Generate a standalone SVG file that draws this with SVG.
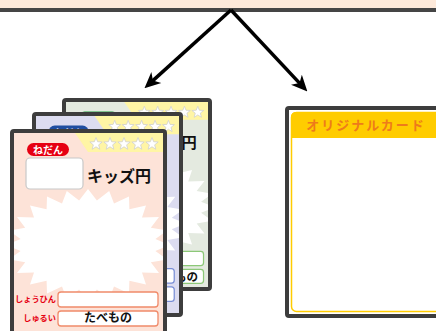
<svg xmlns="http://www.w3.org/2000/svg" xmlns:xlink="http://www.w3.org/1999/xlink" width="436" height="331" viewBox="0 0 436 331">
<style>
.frame{fill:none;stroke:#3d3d3d;stroke-width:4}
.jp{font-family:"Noto Sans CJK JP","Noto Sans",sans-serif;font-weight:bold}
.conn{stroke:#000;stroke-width:3.5;fill:none;marker-end:url(#arr)}
</style>
<defs>
<marker id="arr" markerUnits="userSpaceOnUse" markerWidth="16" markerHeight="16" viewBox="0 0 14 14" refX="7" refY="7" orient="auto">
<path d="M0,0.5 L14,7 L0,13.5 L4,7 Z" fill="#000"/>
</marker>
<path id="star" d="M0,-6.5 L1.65,-2.27 L6.18,-2.01 L2.66,0.87 L3.82,5.26 L0,2.8 L-3.82,5.26 L-2.66,0.87 L-6.18,-2.01 L-1.65,-2.27 Z" fill="#fff" stroke="#cfcfcf" stroke-width="0.8"/>
<g id="tpl">
<rect x="0" y="0" width="149" height="210" stroke="none"/>
<polygon points="61,0 149,0 149,19 74,19" fill="#fff5a5" stroke="none"/>
<use xlink:href="#star" x="82" y="11"/>
<use xlink:href="#star" x="96" y="11"/>
<use xlink:href="#star" x="110" y="11"/>
<use xlink:href="#star" x="124" y="11"/>
<use xlink:href="#star" x="138" y="11"/>
<rect x="13" y="10" width="42" height="13" rx="6.5" fill="currentColor" stroke="none"/>
<text x="34" y="20.5" class="jp" font-size="10" fill="#fff" stroke="none" text-anchor="middle">ねだん</text>
<rect x="12" y="25" width="57" height="31" rx="4" fill="#fff" stroke="#c8c8c8" stroke-width="1.2"/>
<text x="73" y="49" class="jp" font-size="16" fill="#111" stroke="none">キッズ円</text>
<polygon fill="#fff" stroke="none" points="156,112 141.4,117.9 153.2,126.5 136.8,129.2 145,140 128,139.4 132,151.6 115.4,147.7 115,160.5 100,153.6 95.2,166.1 82.9,156.6 74,168 65.1,156.6 52.8,166.1 48,153.6 33,160.5 32.6,147.7 16,151.6 20,139.4 3,140 11.2,129.2 -5.2,126.5 6.6,117.9 -8,112 6.6,106.1 -5.2,97.5 11.2,94.8 3,84 20,84.6 16,72.4 32.6,76.3 33,63.5 48,70.4 52.8,57.9 65.1,67.4 74,56 82.9,67.4 95.2,57.9 100,70.4 115,63.5 115.4,76.3 132,72.4 128,84.6 145,84 136.8,94.8 153.2,97.5 141.4,106.1"/>
<text x="42" y="169" class="jp" font-size="8.2" fill="#e60012" stroke="none" text-anchor="end">しょうひん</text>
<rect x="44" y="159" width="100" height="15" rx="3" fill="#fff" stroke-width="1.3"/>
<text x="42" y="188" class="jp" font-size="8.2" fill="#e60012" stroke="none" text-anchor="end">しゅるい</text>
<rect x="44" y="178" width="100" height="15" rx="3" fill="#fff" stroke-width="1.3"/>
</g>
<clipPath id="clipB"><rect x="66" y="102" width="142" height="185"/></clipPath>
<clipPath id="clipM"><rect x="36" y="116" width="143" height="197"/></clipPath>
<clipPath id="clipF"><rect x="14" y="133" width="149" height="200"/></clipPath>
</defs>
<g id="top-bar">
<rect x="0" y="0" width="436" height="8" fill="#fde9da"/>
<rect x="0" y="8" width="436" height="4" fill="#454545"/>
</g>
<g id="connectors">
<line class="conn" x1="231" y1="10" x2="150.4" y2="82.9"/>
<line class="conn" x1="231" y1="10" x2="301.9" y2="85.6"/>
</g>
<g id="card-back">
<g clip-path="url(#clipB)">
<use xlink:href="#tpl" transform="translate(66,102) scale(0.955,0.94)" fill="#e4eae0" stroke="#8cc878" color="#1e9a3c"/>
<text x="198" y="281" class="jp" font-size="11.5" fill="#111" text-anchor="end">たべもの</text>
</g>
<rect class="frame" x="64" y="100" width="146" height="189" rx="2"/>
</g>
<g id="card-middle">
<g clip-path="url(#clipM)"><use xlink:href="#tpl" transform="translate(36,116) scale(0.96,0.96)" fill="#dcdcf0" stroke="#7a8fd6" color="#1f4ea0"/></g>
<rect class="frame" x="34" y="114" width="147" height="201" rx="2"/>
</g>
<g id="card-front">
<g clip-path="url(#clipF)">
<use xlink:href="#tpl" transform="translate(14,133)" fill="#fde3d8" stroke="#f08a6a" color="#e60012"/>
<text x="108" y="322" class="jp" font-size="12" fill="#111" text-anchor="middle">たべもの</text>
</g>
<rect class="frame" x="12" y="131" width="153" height="230" rx="2"/>
</g>
<g id="card-original">
<rect x="289" y="110" width="160" height="204" fill="#fff"/>
<rect x="291.5" y="112.5" width="160" height="199" rx="5" fill="#fff" stroke="#ffcc00" stroke-width="1.5"/>
<path d="M291,138 L291,117 Q291,112 296,112 L452,112 L452,138 Z" fill="#ffcc00"/>
<text x="366" y="130" class="jp" font-size="13" letter-spacing="2" fill="#ee7b1b" text-anchor="middle">オリジナルカード</text>
<rect class="frame" x="287" y="108" width="170" height="208" rx="2"/>
</g>
</svg>
